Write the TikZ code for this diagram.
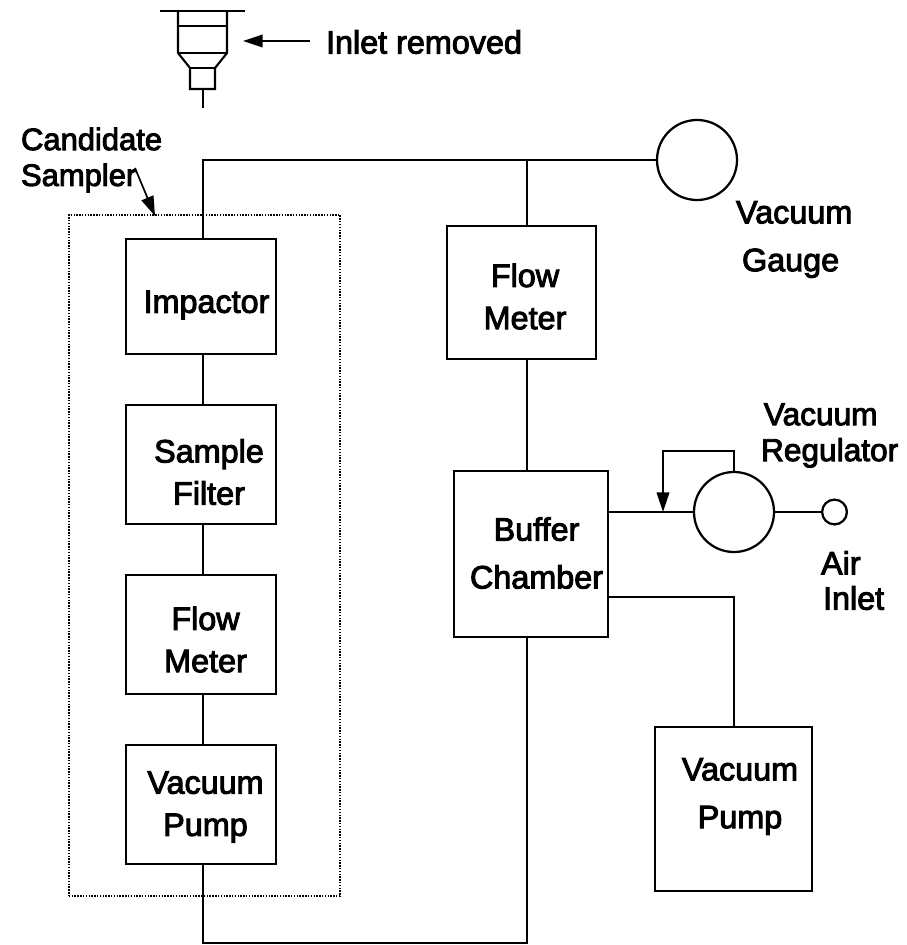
\documentclass[tikz,border=0pt]{standalone}
\usepackage{fontspec}
\setmainfont{Liberation Sans}[FakeBold=3]
\usetikzlibrary{arrows.meta}
\begin{document}
\begin{tikzpicture}[x = 0.025cm, y = -0.025cm, line width = 1.5pt, font=\fontsize{23}{30}\selectfont]
	\tikzstyle{boxStyle} = [shape = rectangle, draw, line width = 1.7pt, inner sep = 0pt]
	\tikzstyle{ringStyle} = [shape = circle, draw, line width = 1.6pt, inner sep = 0pt]
	\tikzstyle{textStyle} = [inner sep = 0pt, align = center]
	\tikzstyle{labelStyle} = [inner sep = 0pt, align = left, anchor = west]
	\tikzstyle{arrowStyle} = [-{Triangle[length = 14pt, width = 9pt]}]
	\useasboundingbox (0,0) rectangle (906,945);
	\node[boxStyle, minimum width = 3.75cm, minimum height = 2.88cm] (impactor) at (201,296.5) {};
	\node[boxStyle, minimum width = 3.75cm, minimum height = 2.98cm] (filter) at (201,464.5) {};
	\node[boxStyle, minimum width = 3.75cm, minimum height = 2.98cm] (meterA) at (201,634.5) {};
	\node[boxStyle, minimum width = 3.75cm, minimum height = 2.98cm] (pumpA) at (201,804.5) {};
	\node[boxStyle, minimum width = 3.73cm, minimum height = 3.33cm] (meterB) at (521.5,292.5) {};
	\node[boxStyle, minimum width = 3.85cm, minimum height = 4.15cm] (buffer) at (531,554) {};
	\node[boxStyle, minimum width = 3.93cm, minimum height = 4.1cm] (pumpB) at (733.5,809) {};
	\node[ringStyle, minimum size = 2cm] (gauge) at (697,160) {};
	\node[ringStyle, minimum size = 2cm] (regulator) at (734,512) {};
	\node[ringStyle, minimum size = 0.62cm] (air) at (834.5,512) {};
	\node[draw, densely dotted, line width = 1pt, inner sep = 0pt, minimum width = 6.78cm, minimum height = 17.03cm] (sampler) at (204.5,555.5) {};
	\node[textStyle] (impactorText) at (206.5,305) {Impactor};
	\node[textStyle] (filterText) at (209,472) {Sample\\Filter};
	\node[textStyle] (meterAText) at (205.5,639.5) {Flow\\Meter};
	\node[textStyle] (pumpAText) at (205.5,807) {Vacuum\\Pump};
	\node[textStyle] (meterBText) at (525,296.5) {Flow\\Meter};
	\node[textStyle] (bufferText) at (536.5,553) {Buffer\\[4pt]Chamber};
	\node[textStyle] (pumpBText) at (740,796.5) {Vacuum\\[4pt]Pump};
	\node[labelStyle, font=\fontsize{22}{30}\selectfont] (samplerText) at (20,160) {Candidate\\[-4.5pt]Sampler};
	\node[labelStyle] (gaugeText) at (735,239.5) {Vacuum\\[4pt]\hspace*{0.15cm}Gauge};
	\node[labelStyle, font=\fontsize{22.5}{30}\selectfont] (regulatorText) at (760,435.5) {\hspace*{0.07cm}Vacuum\\[-4.5pt]Regulator};
	\node[labelStyle] (airText) at (820,580.5) {Air\\[-5pt]\hspace*{0.05cm}Inlet};
	\node[labelStyle] (inletText) at (325,42) {Inlet removed};
	\coordinate (topA) at (203,160);
	\coordinate (topB) at (527,160);
	\coordinate (bottomA) at (203,943);
	\coordinate (bottomB) at (527,943);
	\coordinate (bend) at (734,597);
	\coordinate (tapRight) at (734,451);
	\coordinate (tapLeft) at (663,451);
	\coordinate (tapEnd) at (663,512);
	\draw (impactor.north -| topA) -- (topA) -- (gauge.west);
	\draw (topB) -- (topB |- meterB.north);
	\draw (topB |- meterB.south) -- (topB |- buffer.north);
	\draw (impactor.south -| topA) -- (filter.north -| topA);
	\draw (filter.south -| topA) -- (meterA.north -| topA);
	\draw (meterA.south -| topA) -- (pumpA.north -| topA);
	\draw (pumpA.south -| topA) -- (bottomA) -- (bottomB) -- (bottomB |- buffer.south);
	\draw (buffer.east |- regulator.west) -- (regulator.west);
	\draw (regulator.east) -- (air.west);
	\draw (buffer.east |- bend) -- (bend) -- (pumpB.north -| bend);
	\draw[arrowStyle] (regulator.north) -- (tapRight) -- (tapLeft) -- (tapEnd);
	\coordinate (samplerFrom) at (135,168);
	\coordinate (samplerTo) at (155,216);
	\draw[arrowStyle, line width = 1.2pt] (samplerFrom) -- (samplerTo);
	\coordinate (inletFrom) at (310,41);
	\coordinate (inletTo) at (243,41);
	\draw[arrowStyle, line width = 1.2pt] (inletFrom) -- (inletTo);
	\draw (160,11) -- (245,11);
	\draw (178,11) -- (178,53) -- (190,68) -- (190,89) -- (215,89) -- (215,68) -- (227,53) -- (227,11);
	\draw (178,26) -- (227,26);
	\draw (178,53) -- (227,53);
	\draw (190,68) -- (215,68);
	\draw (203,89) -- (203,108);
\end{tikzpicture}
\end{document}
